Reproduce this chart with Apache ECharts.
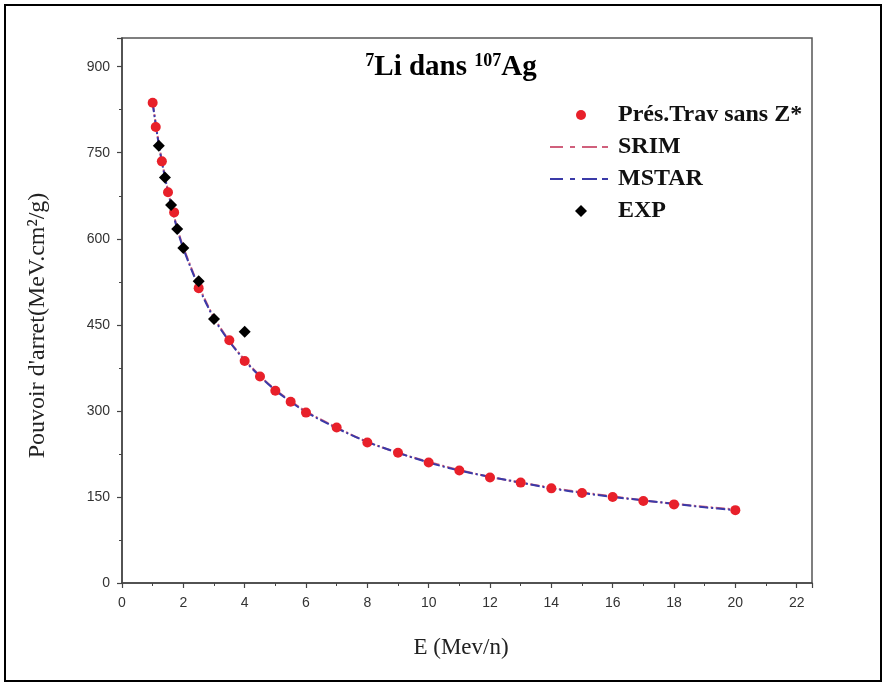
<!DOCTYPE html>
<html>
<head>
<meta charset="utf-8">
<title>7Li dans 107Ag</title>
<script src="https://cdn.jsdelivr.net/npm/echarts@6/dist/echarts.min.js"></script>
<style>
  html, body { margin: 0; padding: 0; background: #ffffff; }
  #chart { width: 886px; height: 686px; }
</style>
</head>
<body>
<div id="chart"></div>
<script>
// Stopping power of 7Li in 107Ag (MeV.cm2/g) versus energy (MeV/n)

// Present work, without effective charge
const energyPT = [1, 1.1, 1.3, 1.5, 1.7, 2.5, 3.5, 4, 4.5, 5, 5.5, 6, 7, 8, 9, 10, 11, 12, 13, 14, 15, 16, 17, 18, 20];
const stopPT   = [837, 795, 735, 681, 646, 514, 423, 387, 360, 335, 316, 297, 271, 245, 227, 210, 196, 184, 175, 165, 157, 150, 143, 137, 127];

// SRIM and MSTAR curves
const energyCurve = [1, 1.2, 1.4, 1.6, 1.8, 2, 2.5, 3, 3.5, 4, 4.5, 5, 5.5, 6, 7, 8, 9, 10, 11, 12, 13, 14, 15, 16, 17, 18, 19, 20];
const stopSrim    = [838, 766, 709, 661, 619, 585, 518, 463, 422, 389, 361, 337, 317, 299, 271, 246, 227, 211, 197, 185, 175, 166, 158, 151, 144, 138, 133, 128];
const stopMstar   = [836, 764, 707, 659, 617, 583, 516, 461, 421, 388, 360, 336, 316, 298, 270, 246, 227, 210, 196, 185, 175, 165, 157, 150, 144, 138, 132, 127];

// Experimental values
const energyExp = [1.2, 1.4, 1.6, 1.8, 2, 2.5, 3, 4];
const stopExp   = [762, 707, 659, 617, 584, 526, 460, 438];

// Axis ticks
const xTicks = { min: 0, max: 22.5, interval: 2 };
const yTicks = { min: 0, max: 950, interval: 150 };

const seriesNames = ['Prés.Trav sans Z*', 'SRIM', 'MSTAR', 'EXP'];

const pairs = (xs, ys) => xs.map((x, i) => [x, ys[i]]);

const serif = '"Liberation Serif", "Times New Roman", serif';
const sans = '"Liberation Sans", Arial, sans-serif';

const colPT = '#e8202a';
const colSrim = '#d0607c';
const colMstar = '#3a3aa8';
const colExp = '#000000';

// dash-dot legend stroke, 58 x 2
const dashDotIcon = 'path://M0,0H13V2H0Z M20,0H25V2H20Z M32,0H47V2H32Z M52,0H58V2H52Z';

const legendText = { fontFamily: serif, fontWeight: 'bold', fontSize: 24, color: '#111', lineHeight: 28 };

// one legend block per entry so each row can carry its own marker size
function legendRow(name, top, icon, left, w, h) {
  return {
    orient: 'vertical', left: left, top: top, padding: 0,
    itemWidth: w, itemHeight: h, symbolKeepAspect: true,
    data: [{ name: name, icon: icon }],
    textStyle: Object.assign({}, legendText, { padding: [0, 0, 0, 618 - (left + w + 5)] })
  };
}

const chart = echarts.init(document.getElementById('chart'), null, { renderer: 'canvas' });

chart.setOption({
  backgroundColor: '#ffffff',
  animation: false,
  grid: {
    left: 122, right: 74, top: 38, bottom: 103,
    show: true, borderColor: '#555555', borderWidth: 1.5, backgroundColor: 'transparent'
  },
  legend: [
    legendRow(seriesNames[0], 101, 'circle', 576, 10, 10),
    legendRow(seriesNames[1], 133, dashDotIcon, 550, 58, 2),
    legendRow(seriesNames[2], 165, dashDotIcon, 550, 58, 2),
    legendRow(seriesNames[3], 197, 'diamond', 575, 12, 12)
  ],
  graphic: [
    {
      type: 'rect', silent: true, z: 100,
      shape: { x: 5, y: 5, width: 876, height: 676 },
      style: { fill: 'none', stroke: '#000000', lineWidth: 2 }
    },
    {
      type: 'text', silent: true, z: 100,
      style: {
        x: 451, y: 68, align: 'center', verticalAlign: 'middle',
        text: '{s|7}{b|Li dans }{s|107}{b|Ag}',
        rich: {
          b: { fontFamily: serif, fontWeight: 'bold', fontSize: 29, color: '#111', lineHeight: 32 },
          s: { fontFamily: serif, fontWeight: 'bold', fontSize: 18, color: '#111', lineHeight: 32, verticalAlign: 'top', padding: [0, 0, 12, 0] }
        }
      }
    }
  ],
  xAxis: {
    type: 'value',
    min: xTicks.min, max: xTicks.max, interval: xTicks.interval,
    name: 'E (Mev/n)', nameLocation: 'middle', nameGap: 53,
    nameTextStyle: { fontFamily: serif, fontSize: 23, color: '#222', padding: [0, 12, 0, 0] },
    axisLine: { show: true, onZero: false, lineStyle: { color: '#444', width: 1.5 } },
    axisTick: { show: true, inside: false, length: 5, lineStyle: { color: '#444', width: 1.2 } },
    minorTick: { show: true, splitNumber: 2, length: 3, lineStyle: { color: '#444', width: 1 } },
    axisLabel: {
      margin: 13, fontFamily: sans, fontSize: 14, color: '#333',
      formatter: v => (v % 2 === 0 ? String(v) : '')
    },
    splitLine: { show: false }
  },
  yAxis: {
    type: 'value',
    min: yTicks.min, max: yTicks.max, interval: yTicks.interval,
    name: "Pouvoir d'arret(MeV.cm²/g)", nameLocation: 'middle', nameGap: 72,
    nameTextStyle: { fontFamily: serif, fontSize: 24, color: '#222', padding: [0, 30, 0, 0] },
    axisLine: { show: true, onZero: false, lineStyle: { color: '#444', width: 1.5 } },
    axisTick: { show: true, inside: false, length: 5, lineStyle: { color: '#444', width: 1.2 } },
    minorTick: { show: true, splitNumber: 2, length: 3, lineStyle: { color: '#444', width: 1 } },
    axisLabel: {
      margin: 12, fontFamily: sans, fontSize: 14, color: '#333',
      formatter: v => (v % 150 === 0 && v <= 900 ? String(v) : '')
    },
    splitLine: { show: false }
  },
  series: [
    {
      name: seriesNames[0], type: 'scatter', z: 3,
      data: pairs(energyPT, stopPT),
      symbol: 'circle', symbolSize: 10,
      itemStyle: { color: colPT, opacity: 1 }
    },
    {
      name: seriesNames[1], type: 'line', z: 1,
      data: pairs(energyCurve, stopSrim),
      symbol: 'none', smooth: 0.3,
      lineStyle: { color: colSrim, width: 2, type: [9, 3, 2, 3] },
      itemStyle: { color: colSrim }
    },
    {
      name: seriesNames[2], type: 'line', z: 2,
      data: pairs(energyCurve, stopMstar),
      symbol: 'none', smooth: 0.3,
      lineStyle: { color: colMstar, width: 2, type: [9, 3, 2, 3] },
      itemStyle: { color: colMstar }
    },
    {
      name: seriesNames[3], type: 'scatter', z: 4,
      data: pairs(energyExp, stopExp),
      symbol: 'diamond', symbolSize: 12,
      itemStyle: { color: colExp, opacity: 1 }
    }
  ]
});
</script>
</body>
</html>
